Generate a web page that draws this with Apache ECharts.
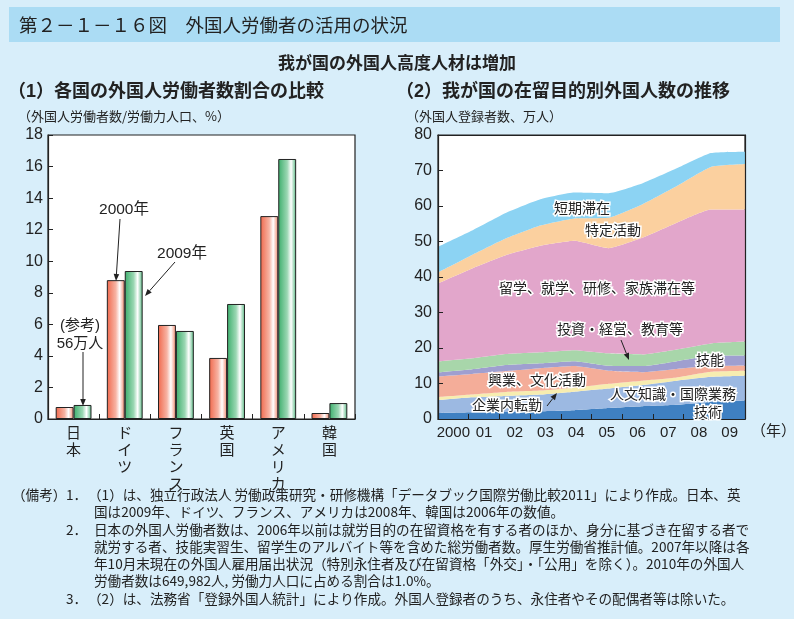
<!DOCTYPE html>
<html>
<head>
<meta charset="utf-8">
<script src="https://cdn.jsdelivr.net/npm/echarts@6/dist/echarts.min.js"></script>
<style>
html,body{margin:0;padding:0;background:#D8EEFA;}
#chart{width:794px;height:619px;}
</style>
</head>
<body>
<div id="chart"></div>
<script>
// ---------- (1) foreign worker share by country ----------
const countries = ['日本', 'ドイツ', 'フランス', '英国', 'アメリカ', '韓国'];
const share2000 = [0.76, 8.8, 5.96, 3.87, 12.86, 0.38];
const share2009 = [0.89, 9.38, 5.58, 7.29, 16.48, 1.01];
const leftTicks = [0, 2, 4, 6, 8, 10, 12, 14, 16, 18];

// ---------- (2) registered foreigners by status (10k persons) ----------
const years = ['2000', '01', '02', '03', '04', '05', '06', '07', '08', '09'];
const gijutsu   = [1.7, 1.9, 2.0, 2.2, 2.5, 3.1, 3.6, 4.0, 4.8, 5.2];
const jinbun    = [3.6, 4.2, 4.5, 4.7, 5.2, 5.5, 6.0, 6.8, 7.1, 7.0];
const tenkin    = [0.9, 0.8, 1.1, 1.1, 1.1, 1.3, 1.2, 0.9, 1.4, 1.4];
const kogyo     = [5.8, 5.8, 5.9, 6.3, 6.1, 3.7, 2.4, 2.4, 1.6, 1.5];
const gino      = [1.1, 1.3, 1.7, 1.4, 1.4, 1.4, 1.7, 2.2, 2.9, 2.8];
const toshi     = [3.1, 3.1, 3.1, 3.1, 3.1, 3.5, 3.3, 3.3, 3.5, 3.9];
const ryugaku   = [22.0, 25.3, 27.9, 30.0, 30.8, 29.6, 32.9, 35.7, 37.7, 37.2];
const tokutei   = [3.1, 3.8, 4.7, 5.7, 6.3, 8.6, 9.4, 10.3, 12.0, 12.8];
const tanki     = [7.2, 6.9, 7.2, 7.4, 7.3, 6.9, 5.9, 5.0, 3.9, 3.5];
const rightTicks = [0, 10, 20, 30, 40, 50, 60, 70, 80];

const areaNames  = ['技術', '人文知識・国際業務', '企業内転勤', '興業、文化活動', '技能', '投資・経営、教育等', '留学、就学、研修、家族滞在等', '特定活動', '短期滞在'];
const areaData   = [gijutsu, jinbun, tenkin, kogyo, gino, toshi, ryugaku, tokutei, tanki];
const areaColors = ['#3F80C2', '#9CB9E2', '#F7EDB0', '#F4AD99', '#9F9FD0', '#A8D6AA', '#E2A6CB', '#FBD09F', '#8CD3F3'];

const notes = [
  ['（備考）', 12, 495], ['1．', 66, 495], ['（1）は、独立行政法人 労働政策研究・研修機構「データブック国際労働比較2011」により作成。日本、英', 88, 495],
  ['国は2009年、ドイツ、フランス、アメリカは2008年、韓国は2006年の数値。', 94, 512],
  ['2．', 66, 530], ['日本の外国人労働者数は、2006年以前は就労目的の在留資格を有する者のほか、身分に基づき在留する者で', 94, 530],
  ['就労する者、技能実習生、留学生のアルバイト等を含めた総労働者数。厚生労働省推計値。2007年以降は各', 94, 547],
  ['年10月末現在の外国人雇用届出状況（特別永住者及び在留資格「外交」・「公用」を除く）。2010年の外国人', 94, 564],
  ['労働者数は649,982人, 労働力人口に占める割合は1.0%。', 94, 581],
  ['3．', 66, 599], ['（2）は、法務省「登録外国人統計」により作成。外国人登録者のうち、永住者やその配偶者等は除いた。', 88, 599]
];

const FONT = "'Liberation Sans', 'Noto Sans CJK JP', sans-serif";
const JFONT = "'Noto Sans CJK JP', sans-serif";

function grad(c1, c2, c3) {
  return {type: 'linear', x: 0, y: 0, x2: 1, y2: 0, colorStops: [
    {offset: 0, color: c1}, {offset: 0.5, color: c2}, {offset: 0.72, color: '#FFFFFF'}, {offset: 1, color: c3}]};
}

function arrow(x1, y1, x2, y2) {
  const a = Math.atan2(y2 - y1, x2 - x1), L = 7, W = 2.8;
  const bx = x2 - L * Math.cos(a), by = y2 - L * Math.sin(a);
  const px = -Math.sin(a) * W, py = Math.cos(a) * W;
  return [
    {type: 'line', z: 50, shape: {x1: x1, y1: y1, x2: bx, y2: by}, style: {stroke: '#222', lineWidth: 1}},
    {type: 'polygon', z: 50, shape: {points: [[x2, y2], [bx + px, by + py], [bx - px, by - py]]}, style: {fill: '#222'}}
  ];
}

function txt(text, x, y, size, opts) {
  opts = opts || {};
  return {type: 'text', z: 60, style: Object.assign({
    text: text, x: x, y: y, fontSize: size, fontFamily: opts.family || JFONT,
    fontWeight: opts.weight || 'normal', fill: opts.fill || '#222',
    align: opts.align || 'left', verticalAlign: opts.va || 'middle'
  }, opts.halo ? {stroke: '#fff', lineWidth: 3} : {})};
}

const graphics = [
  {type: 'rect', z: 1, shape: {x: 9, y: 7, width: 771, height: 35}, style: {fill: '#ABDCF4'}},
  txt('第２－１－１６図　外国人労働者の活用の状況', 19, 25, 18.5),
  txt('我が国の外国人高度人材は増加', 397, 63, 17, {weight: 'bold', align: 'center'}),
  txt('（1）各国の外国人労働者数割合の比較', 8, 92, 18, {weight: 'bold', family: FONT}),
  txt('（2）我が国の在留目的別外国人数の推移', 396, 92, 18, {weight: 'bold', family: FONT}),
  txt('（外国人労働者数/労働力人口、%）', 18, 116, 13),
  txt('（外国人登録者数、万人）', 406, 116, 13),
  // left annotations
  txt('2000年', 124, 210, 15.5, {family: FONT, align: 'center'}),
  txt('2009年', 182, 254, 15.5, {family: FONT, align: 'center'}),
  txt('(参考)', 80, 326, 15, {family: FONT, align: 'center'}),
  txt('56万人', 80, 344, 15, {family: FONT, align: 'center'}),
  ...arrow(120, 219, 116, 281),
  ...arrow(175, 262, 145, 296),
  ...arrow(83, 352, 83, 406),
  // right area labels
  txt('短期滞在', 582, 208, 14, {align: 'center', halo: true}),
  txt('特定活動', 613, 230, 14, {align: 'center', halo: true}),
  txt('留学、就学、研修、家族滞在等', 597, 288, 14, {align: 'center', halo: true}),
  txt('投資・経営、教育等', 620, 329, 14, {align: 'center', halo: true}),
  txt('技能', 710, 360, 14, {align: 'center', halo: true}),
  txt('興業、文化活動', 537, 380, 14, {align: 'center', halo: true}),
  txt('人文知識・国際業務', 673, 394, 14, {align: 'center', halo: true}),
  txt('企業内転勤', 507, 405, 14, {align: 'center', halo: true}),
  txt('技術', 708, 412, 14, {align: 'center', halo: true}),
  ...arrow(621, 340, 629, 360),
  ...arrow(547, 406, 557, 393),
  txt('（年）', 751, 432, 15, {family: FONT})
];
notes.forEach(n => graphics.push(txt(n[0], n[1], n[2], 13.6)));

const axisLine = {show: true, lineStyle: {color: '#222', width: 1.2}};
const tick = {show: true, inside: true, length: 5, lineStyle: {color: '#222'}};

const option = {
  animation: false,
  backgroundColor: '#D8EEFA',
  textStyle: {fontFamily: FONT},
  grid: [
    {left: 48, right: 439, top: 135, bottom: 200, show: true, backgroundColor: '#fff', borderColor: '#222', borderWidth: 1.2},
    {left: 438, right: 49, top: 135, bottom: 200, show: true, backgroundColor: '#fff', borderColor: '#222', borderWidth: 1.2}
  ],
  xAxis: [
    {gridIndex: 0, type: 'category', data: countries, axisLine: axisLine, axisTick: tick, z: 5,
     axisLabel: {color: '#222', fontSize: 15, lineHeight: 17, margin: 6, verticalAlign: 'top',
       formatter: v => v.split('').join('\n')}},
    {gridIndex: 1, type: 'category', data: years, boundaryGap: true, axisLine: axisLine, axisTick: Object.assign({interval: 0}, tick), z: 5,
     axisLabel: {color: '#222', fontSize: 15, margin: 6, interval: 0, hideOverlap: false}},
    {gridIndex: 1, type: 'category', data: years, boundaryGap: false, show: false},
    {gridIndex: 1, type: 'category', data: years, position: 'top', axisLine: axisLine, axisTick: {show: false}, axisLabel: {show: false}, z: 5}
  ],
  yAxis: [
    {gridIndex: 0, type: 'value', min: leftTicks[0], max: leftTicks[leftTicks.length - 1], interval: 2,
     axisLine: axisLine, splitLine: {show: false}, axisTick: tick, z: 5,
     axisLabel: {color: '#222', fontSize: 16, margin: 5}},
    {gridIndex: 1, type: 'value', min: rightTicks[0], max: rightTicks[rightTicks.length - 1], interval: 10,
     axisLine: axisLine, splitLine: {show: false}, axisTick: tick, z: 5,
     axisLabel: {color: '#222', fontSize: 16, margin: 6}},
    {gridIndex: 1, type: 'value', position: 'right', min: rightTicks[0], max: rightTicks[rightTicks.length - 1],
     axisLine: axisLine, splitLine: {show: false}, axisTick: {show: false}, axisLabel: {show: false}, z: 5}
  ],
  series: [
    {name: '2000年', type: 'bar', xAxisIndex: 0, yAxisIndex: 0, data: share2000, barGap: '0%', barCategoryGap: '30%',
     itemStyle: {color: grad('#F0684C', '#F7B4A4', '#F08468'), borderColor: '#222', borderWidth: 1}},
    {name: '2009年', type: 'bar', xAxisIndex: 0, yAxisIndex: 0, data: share2009, barGap: '0%', barCategoryGap: '30%',
     itemStyle: {color: grad('#3CAE6C', '#9BD7B3', '#52B67E'), borderColor: '#222', borderWidth: 1}}
  ].concat(areaData.map((d, i) => ({
    name: areaNames[i], type: 'line', xAxisIndex: 2, yAxisIndex: 1, stack: 'reg', data: d,
    symbol: 'none', smooth: 0.15, lineStyle: {width: 0}, areaStyle: {color: areaColors[i], opacity: 1}, z: 2
  }))),
  graphic: graphics
};

const chart = echarts.init(document.getElementById('chart'), null, {renderer: 'canvas'});
chart.setOption(option);
</script>
</body>
</html>
